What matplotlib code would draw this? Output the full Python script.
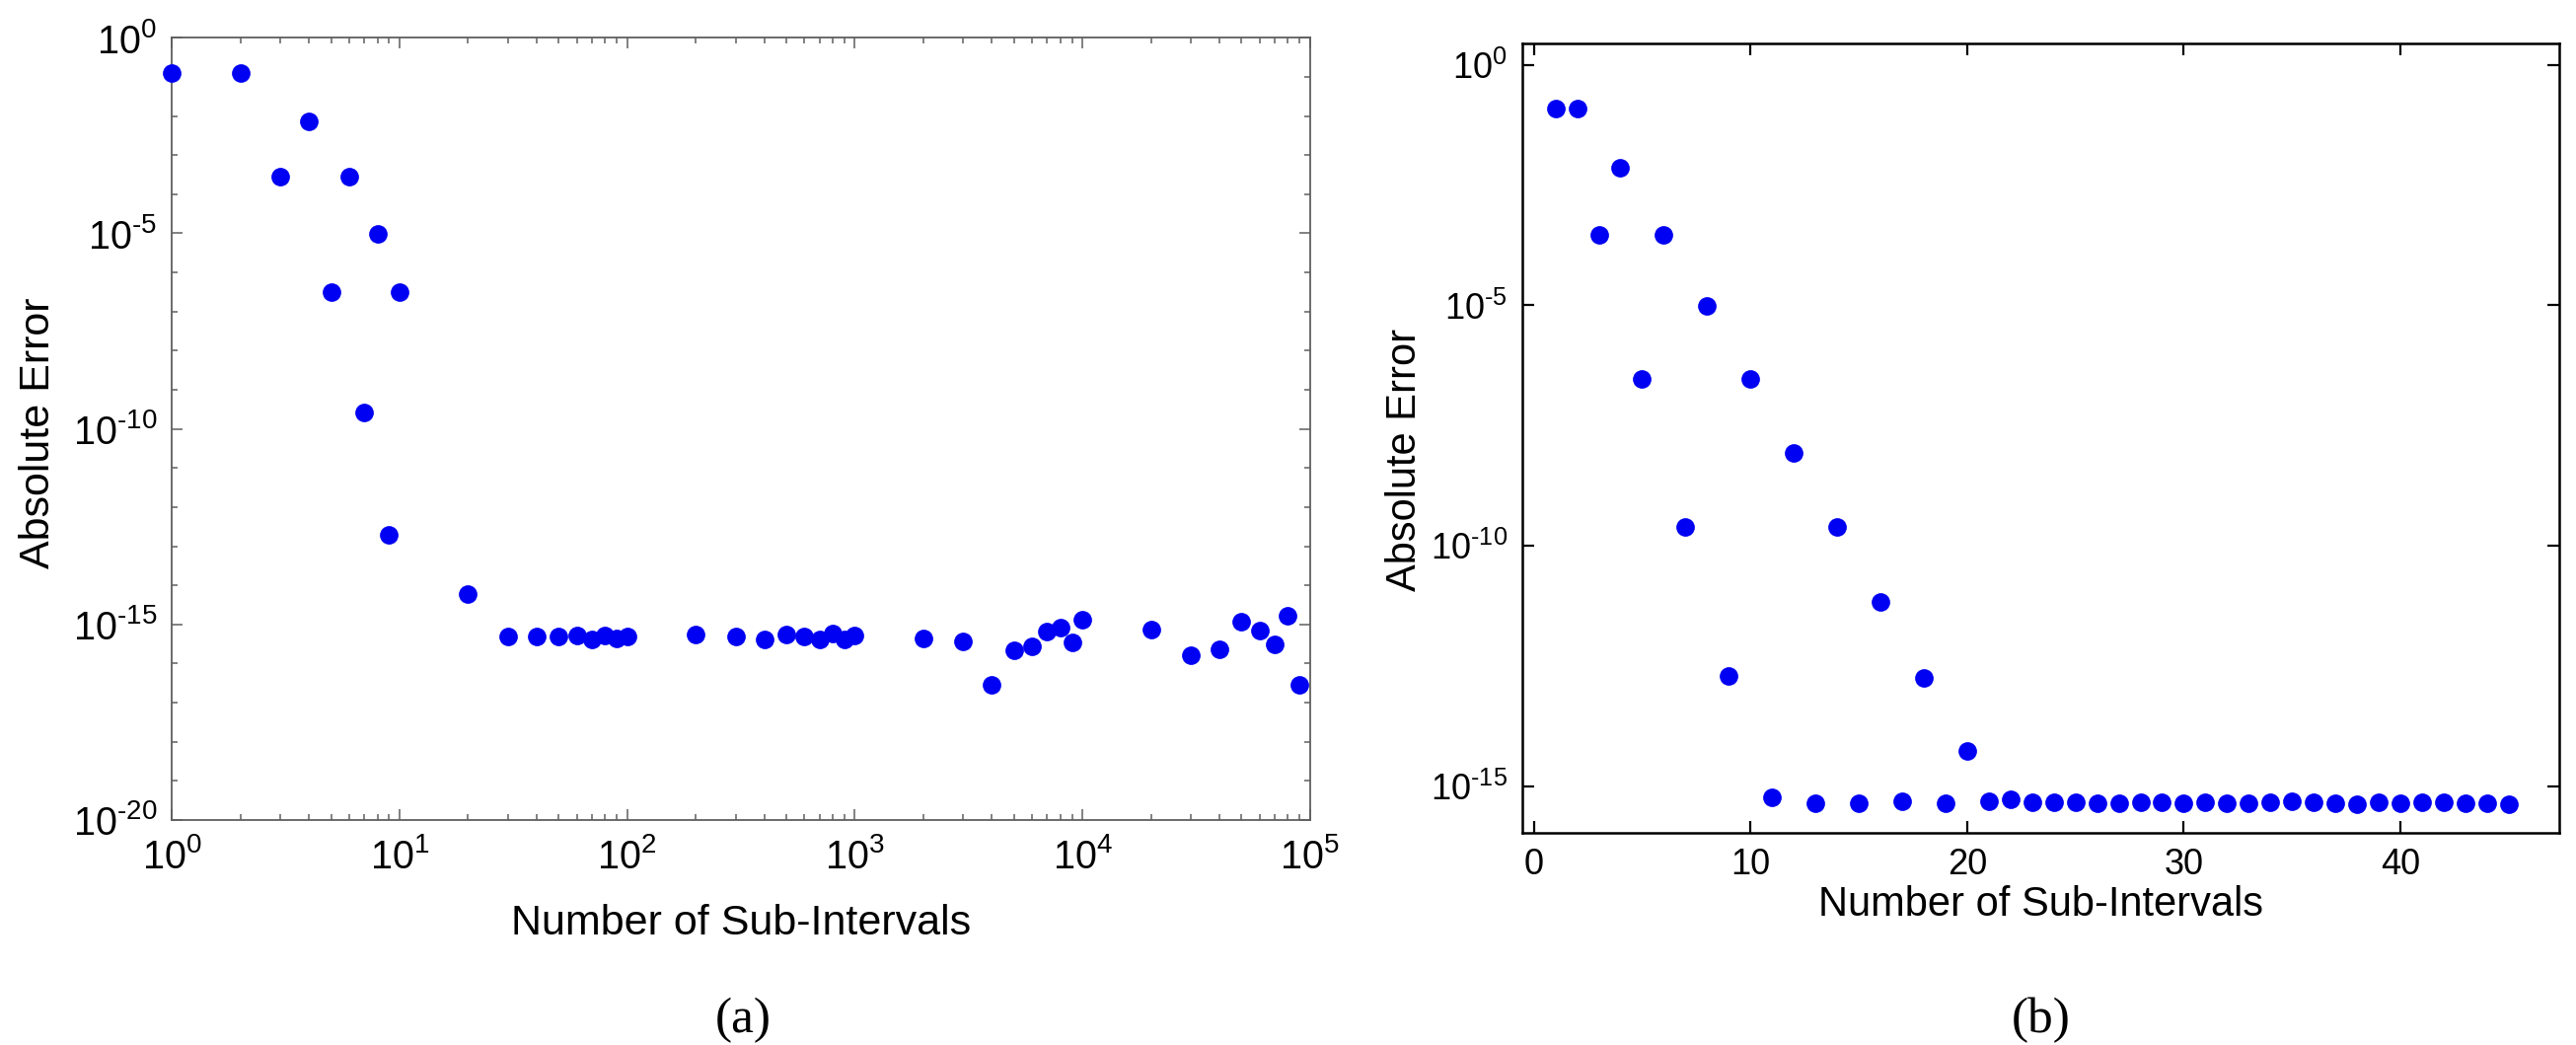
import numpy as np
import matplotlib
matplotlib.use("Agg")
import matplotlib.pyplot as plt
from matplotlib.ticker import FixedLocator, FuncFormatter, LogLocator, NullFormatter

plt.rcParams['font.family'] = ['Liberation Sans', 'DejaVu Sans']
plt.rcParams['mathtext.fontset'] = 'custom'
plt.rcParams['mathtext.rm'] = 'Liberation Sans'
plt.rcParams['mathtext.it'] = 'Liberation Sans:italic'
plt.rcParams['mathtext.bf'] = 'Liberation Sans:bold'

# ---------------- data ----------------
# panel (a): log-log
n_a = [1, 2, 3, 4, 5, 6, 7, 8, 9, 10,
       20, 30, 40, 50, 60, 70, 80, 90, 100,
       200, 300, 400, 500, 600, 700, 800, 900, 1000,
       2000, 3000, 4000, 5000, 6000, 7000, 8000, 9000, 10000,
       20000, 30000, 40000, 50000, 60000, 70000, 80000, 90000]
err_a = [1.26e-1, 1.26e-1, 2.9e-4, 7.4e-3, 3.1e-7, 2.9e-4, 2.6e-10, 9.8e-6, 2.0e-13, 3.1e-7,
         5.9e-15, 4.8e-16, 4.8e-16, 4.8e-16, 5.2e-16, 4.2e-16, 5.1e-16, 4.5e-16, 4.8e-16,
         5.6e-16, 4.8e-16, 4.2e-16, 5.6e-16, 4.9e-16, 4.2e-16, 5.8e-16, 4.2e-16, 5.1e-16,
         4.3e-16, 3.6e-16, 2.8e-17, 2.2e-16, 2.8e-16, 6.5e-16, 8.3e-16, 3.5e-16, 1.35e-15,
         7.4e-16, 1.66e-16, 2.3e-16, 1.15e-15, 6.8e-16, 3.1e-16, 1.66e-15, 2.8e-17]

# panel (b): linear x, log y
n_b = list(range(1, 46))
err_b = [1.26e-1, 1.26e-1, 2.9e-4, 7.4e-3, 3.0e-7, 2.9e-4, 2.5e-10, 9.8e-6, 2.0e-13, 3.0e-7,
         5.9e-16, 8.7e-9, 4.4e-16, 2.5e-10, 4.4e-16, 6.8e-12, 4.9e-16, 1.8e-13, 4.4e-16, 5.4e-15,
         4.9e-16, 5.5e-16, 4.7e-16, 4.7e-16, 4.7e-16, 4.4e-16, 4.4e-16, 4.7e-16, 4.7e-16, 4.4e-16,
         4.7e-16, 4.4e-16, 4.4e-16, 4.7e-16, 4.9e-16, 4.7e-16, 4.4e-16, 4.3e-16, 4.7e-16, 4.4e-16,
         4.7e-16, 4.7e-16, 4.4e-16, 4.4e-16, 4.3e-16]

yticks_a = [1e0, 1e-5, 1e-10, 1e-15, 1e-20]
yticks_b = [1e0, 1e-5, 1e-10, 1e-15]
xticks_b = [0, 10, 20, 30, 40]

xlabel = 'Number of Sub-Intervals'
ylabel = 'Absolute Error'
panel_tags = ['(a)', '(b)']

# ---------------- layout ----------------
W, H = 2611, 1059
fig = plt.figure(figsize=(W / 100, H / 100), dpi=100)


def frac(l, t, r, b):
    return [l / W, 1 - b / H, (r - l) / W, (b - t) / H]


def pow_fmt(v, pos):
    e = int(round(np.log10(v)))
    if e < 0:
        return r'$10^{\text{-}%d}$' % (-e)
    return r'$10^{%d}$' % e


axA = fig.add_axes(frac(174.3, 38.3, 1327.8, 831.0))
axB = fig.add_axes(frac(1543.2, 43.6, 2593.6, 843.6))

dot = dict(ls='none', marker='o', ms=13.5, mew=0, color='#0000f2', clip_on=False, zorder=3)

# ---- panel (a)
axA.plot(n_a, err_a, **dot)
axA.set_xscale('log')
axA.set_yscale('log')
axA.set_xlim(1, 1e5)
axA.set_ylim(1e-20, 1e0)
axA.xaxis.set_major_locator(LogLocator(base=10, numticks=10))
axA.xaxis.set_minor_locator(LogLocator(base=10, subs=np.arange(2, 10), numticks=100))
axA.xaxis.set_minor_formatter(NullFormatter())
axA.xaxis.set_major_formatter(FuncFormatter(pow_fmt))
axA.yaxis.set_major_locator(FixedLocator(yticks_a))
axA.yaxis.set_minor_locator(FixedLocator([10.0 ** (-k) for k in range(21)]))
axA.yaxis.set_minor_formatter(NullFormatter())
axA.yaxis.set_major_formatter(FuncFormatter(pow_fmt))
gray = '#5f5f5f'
for s in axA.spines.values():
    s.set_color(gray)
    s.set_linewidth(1.3)
axA.tick_params(which='both', direction='in', top=True, right=True, color=gray, width=1.1)
axA.tick_params(which='major', length=8)
axA.tick_params(which='minor', length=4.3)
axA.tick_params(axis='x', which='major', labelsize=28.5, pad=13)
axA.tick_params(axis='y', which='major', labelsize=28.5, pad=11)
axA.set_xlabel(xlabel, fontsize=31)
axA.xaxis.label.set_va('center')
axA.xaxis.set_label_coords(0.5, -(936 - 831.0) / (831.0 - 38.3))
axA.set_ylabel(ylabel, fontsize=31)
axA.yaxis.label.set_va('center')
axA.yaxis.set_label_coords((39 - 174.3) / (1327.8 - 174.3), (831 - 438.5) / (831.0 - 38.3))

# ---- panel (b)
axB.plot(n_b, err_b, **dot)
axB.set_yscale('log')
axB.set_xlim(-0.52, 47.31)
axB.set_ylim(10 ** -15.957, 10 ** 0.453)
axB.xaxis.set_major_locator(FixedLocator(xticks_b))
axB.yaxis.set_major_locator(FixedLocator(yticks_b))
axB.yaxis.set_minor_locator(FixedLocator([]))
axB.yaxis.set_major_formatter(FuncFormatter(pow_fmt))
for s in axB.spines.values():
    s.set_color('black')
    s.set_linewidth(1.8)
axB.tick_params(which='both', direction='in', top=True, right=True, color='black', width=1.6, length=8.5)
axB.tick_params(axis='x', labelsize=26, pad=11)
axB.tick_params(axis='y', labelsize=26, pad=11)
axB.set_xlabel(xlabel, fontsize=30)
axB.xaxis.label.set_va('center')
axB.xaxis.set_label_coords(0.5, -(917 - 843.6) / 800.0)
axB.set_ylabel(ylabel, fontsize=30)
axB.yaxis.label.set_va('center')
axB.yaxis.set_label_coords((1424 - 1543.2) / 1050.4, (843.6 - 466) / 800.0)

# ---- panel tags
fig.text(753.6 / W, 1 - 1034 / H, panel_tags[0], fontsize=37, ha='center', va='center',
         family=['Liberation Serif', 'DejaVu Serif'])
fig.text(2069 / W, 1 - 1034 / H, panel_tags[1], fontsize=37, ha='center', va='center',
         family=['Liberation Serif', 'DejaVu Serif'])

fig.savefig('out.png', dpi=100, facecolor='white')
